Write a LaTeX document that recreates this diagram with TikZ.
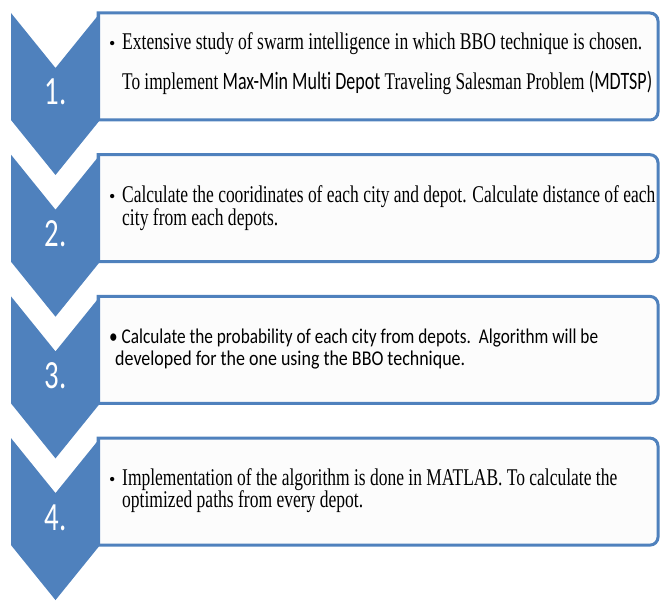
\documentclass[tikz,border=0pt]{standalone}
\usepackage{fontspec}
\usepackage{graphicx}
\setmainfont{Liberation Serif}
\newfontfamily\carl[Ligatures=NoCommon]{Carlito}
\definecolor{officeblue}{HTML}{4F81BD}
\definecolor{boxfill}{HTML}{FCFCFC}
\newcommand\fitw[2]{\resizebox{#1pt}{\height}{#2}}
\newcommand\sansbit[1]{{\carl\fontsize{25}{25}\selectfont #1}}
\tikzset{
  chev/.style={fill=officeblue, draw=none},
  stepframe/.style={draw=officeblue, line width=3pt, fill=boxfill},
  numlbl/.style={text=white, font=\carl\fontsize{40}{40}\selectfont, anchor=base, inner sep=0pt},
  seriftxt/.style={anchor=base west, inner sep=0pt, font=\fontsize{24}{24}\selectfont},
  sanstxt/.style={anchor=base west, inner sep=0pt, font=\carl\fontsize{21}{21}\selectfont},
  bul/.style={anchor=base west, inner sep=0pt, font=\fontsize{18}{18}\selectfont},
}
\begin{document}
\begin{tikzpicture}[x=1pt,y=-1pt]
\useasboundingbox (0,0) rectangle (660,601);
% boxes and chevrons
\foreach \t/\n in {13/1,154.7/2,296.4/3,438.1/4}{
  \pgfmathsetmacro{\b}{\t+107}
  \draw[stepframe] (98,\t) -- (600,\t) [rounded corners=8pt] -- (658,\t) -- (658,\b) -- (600,\b) [sharp corners] -- (98,\b) -- cycle;
  \fill[chev] (11,\t) -- (55.5,\t+55) -- (100,\t) -- (100,\b) -- (55.5,\b+55) -- (11,\b) -- cycle;
  \node[numlbl] (num\n) at (55.5,\t+92) {\scalebox{0.72}[1]{\n.}};
}
% box 1
\node[bul] (b1) at (109,50) {•};
\node[seriftxt] (t1a) at (122,50) {\fitw{520}{Extensive study of swarm intelligence in which BBO technique is chosen.}};
\node[seriftxt] (t1b) at (122,90) {\fitw{530}{To implement \sansbit{Max-Min Multi Depot} Traveling Salesman Problem \sansbit{(MDTSP)}}};
% box 2
\node[bul] (b2) at (109,203) {•};
\node[seriftxt] (t2a) at (122,203) {\fitw{533}{Calculate the cooridinates of each city and depot. Calculate distance of each}};
\node[seriftxt] (t2b) at (122,226) {\fitw{156}{city from each depots.}};
% box 3
\node[sanstxt] (t3a) at (109,343) {\fitw{489}{• Calculate the probability of each city from depots.\ \ Algorithm will be}};
\node[sanstxt] (t3b) at (115,365) {\fitw{350}{developed for the one using the BBO technique.}};
% box 4
\node[bul] (b4) at (109,485) {•};
\node[seriftxt] (t4a) at (122,485) {\fitw{495}{Implementation of the algorithm is done in MATLAB. To calculate the}};
\node[seriftxt] (t4b) at (122,507) {\fitw{241}{optimized paths from every depot.}};
\end{tikzpicture}
\end{document}
